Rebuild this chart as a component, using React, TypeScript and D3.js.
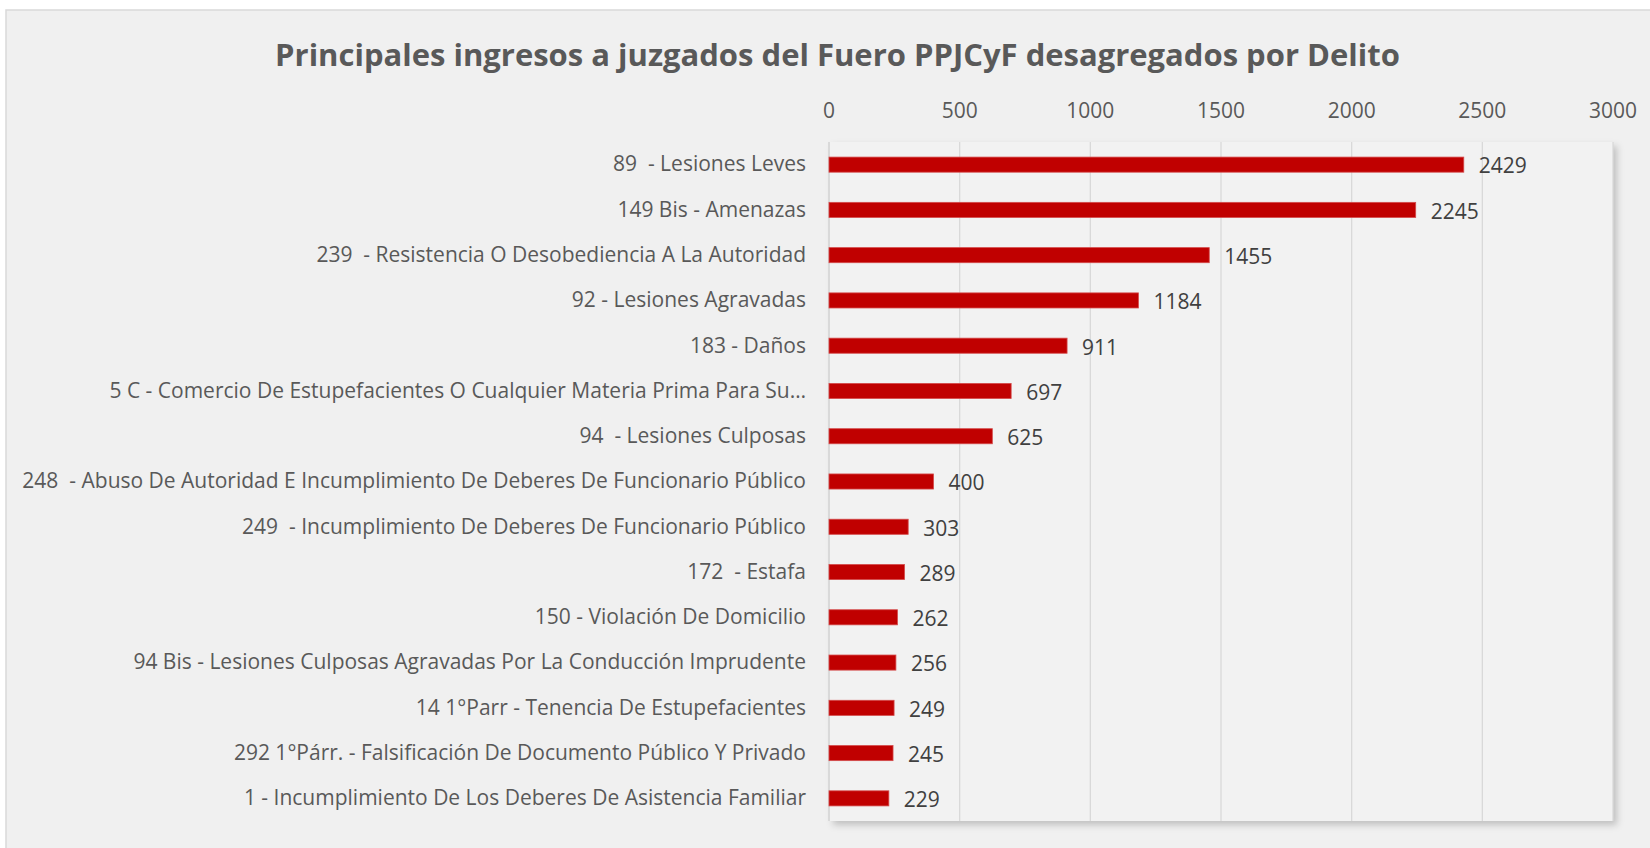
import React from "react";
import * as d3 from "d3";

const categories: string[] = [
  "89  - Lesiones Leves",
  "149 Bis - Amenazas",
  "239  - Resistencia O Desobediencia A La Autoridad",
  "92 - Lesiones Agravadas",
  "183 - Daños",
  "5 C - Comercio De Estupefacientes O Cualquier Materia Prima Para Su…",
  "94  - Lesiones Culposas",
  "248  - Abuso De Autoridad E Incumplimiento De Deberes De Funcionario Público",
  "249  - Incumplimiento De Deberes De Funcionario Público",
  "172  - Estafa",
  "150 - Violación De Domicilio",
  "94 Bis - Lesiones Culposas Agravadas Por La Conducción Imprudente",
  "14 1°Parr - Tenencia De Estupefacientes",
  "292 1°Párr. - Falsificación De Documento Público Y Privado",
  "1 - Incumplimiento De Los Deberes De Asistencia Familiar",
];
const values: number[] = [2429, 2245, 1455, 1184, 911, 697, 625, 400, 303, 289, 262, 256, 249, 245, 229];
const ticks: number[] = [0, 500, 1000, 1500, 2000, 2500, 3000];
const title = "Principales ingresos a juzgados del Fuero PPJCyF desagregados por Delito";

const W = 1650;
const H = 848;
const FONT = "'Open Sans', sans-serif";

export default function App() {
  const x = d3.scaleLinear().domain([0, 3000]).range([829, 1613]);
  const y = d3
    .scaleBand<string>()
    .domain(categories)
    .range([142, 821])
    .paddingInner(2 / 3)
    .paddingOuter(1 / 3);
  const bw = y.bandwidth();

  return (
    <svg
      width={W}
      height={H}
      style={{ position: "absolute", left: 0, top: 0, display: "block", background: "#ffffff" }}
    >
      <defs>
        <filter id="shadow" x="-5%" y="-5%" width="115%" height="115%">
          <feDropShadow dx="4" dy="4" stdDeviation="3.5" floodColor="#000" floodOpacity="0.2" />
        </filter>
      </defs>
      <rect x={6} y={10} width={W + 10} height={H + 10} fill="#f0f0f0" stroke="#d9d9d9" strokeWidth={1.5} />
      <text
        x={837.5}
        y={65.5}
        textAnchor="middle"
        fontFamily={FONT}
        fontWeight={700}
        fontSize={31}
        fill="#595959"
      >
        {title}
      </text>
      <rect x={829} y={142} width={1613 - 829} height={821 - 142} fill="#f2f2f2" filter="url(#shadow)" />
      {ticks.map((t) => (
        <g key={t}>
          <line x1={x(t)} x2={x(t)} y1={142} y2={821} stroke="#d9d9d9" strokeWidth={t === 0 ? 2 : 1.3} />
          <text
            x={x(t)}
            y={118}
            textAnchor="middle"
            fontFamily={FONT}
            fontSize={21}
            fill="#595959"
          >
            {t}
          </text>
        </g>
      ))}
      {categories.map((c, i) => {
        const yy = y(c) as number;
        const cy = yy + bw / 2;
        return (
          <g key={c}>
            <rect
              x={x(0)}
              y={yy}
              width={x(values[i]) - x(0)}
              height={bw}
              fill="#c00000"
              stroke="#d44a4a"
              strokeWidth={0.8}
            />
            <text
              x={806}
              y={cy + 6.8}
              textAnchor="end"
              fontFamily={FONT}
              fontSize={21}
              fill="#595959"
              style={{ whiteSpace: "pre" }}
            >
              {c}
            </text>
            <text
              x={x(values[i]) + 15}
              y={cy + 8.8}
              fontFamily={FONT}
              fontSize={21}
              fill="#404040"
            >
              {values[i]}
            </text>
          </g>
        );
      })}
    </svg>
  );
}
